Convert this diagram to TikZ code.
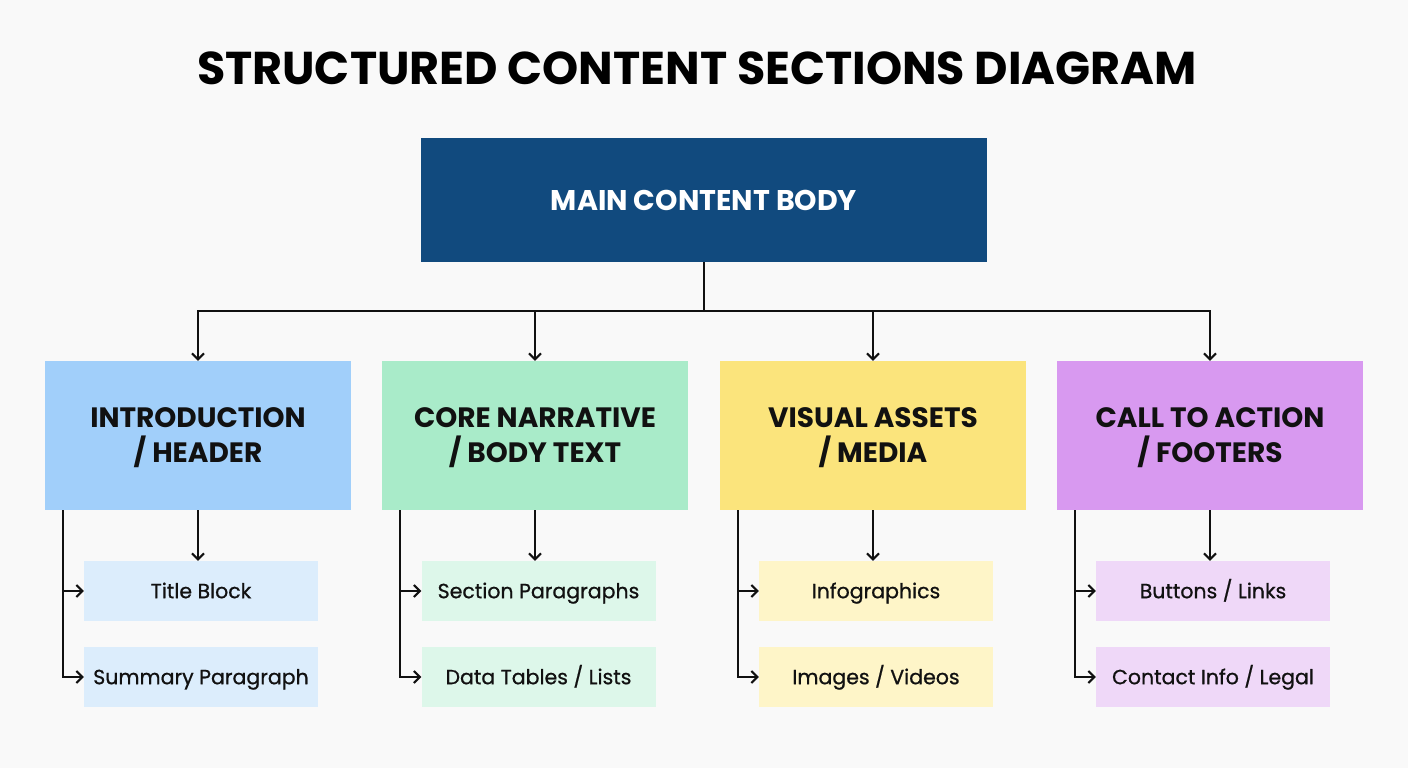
\documentclass[tikz,border=0pt]{standalone}
\usepackage{fontspec}
\setmainfont{Poppins}
\newfontfamily\submedium{Poppins}[FakeBold=0.8]
\usetikzlibrary{arrows.meta}
\definecolor{bgc}{HTML}{F9F9F9}
\definecolor{mainc}{HTML}{114A7E}
\definecolor{blueA}{HTML}{A1CFFA}
\definecolor{blueB}{HTML}{DCEDFC}
\definecolor{greenA}{HTML}{A9EBC9}
\definecolor{greenB}{HTML}{DDF7EA}
\definecolor{yellowA}{HTML}{FBE47C}
\definecolor{yellowB}{HTML}{FEF5C8}
\definecolor{purpleA}{HTML}{D899F0}
\definecolor{purpleB}{HTML}{EFD8F8}
\definecolor{ink}{HTML}{111111}
\tikzset{
  mainbox/.style={rectangle, fill=mainc, minimum width=566pt, minimum height=124pt, inner sep=0pt,
    text height=20pt, text depth=0pt,
    text=white, font=\fontsize{28.5}{30}\selectfont\bfseries},
  secbox/.style={rectangle, minimum width=306pt, minimum height=149pt, inner sep=0pt, align=center,
    text height=54.6pt, text depth=0pt,
    text=ink, font=\fontsize{28}{35}\selectfont\bfseries},
  subbox/.style={rectangle, minimum width=234pt, minimum height=60pt, inner sep=0pt,
    text height=14.4pt, text depth=0pt,
    text=ink, font=\fontsize{20.5}{24}\submedium},
  conn/.style={draw=ink, line width=2pt},
  arr/.style={conn, -{Straight Barb[length=6pt,width=12pt,line width=2pt]}},
}
\begin{document}
\begin{tikzpicture}[x=1pt,y=-1pt]
\useasboundingbox[fill=bgc] (0,0) rectangle (1408,768);
\node[font=\fontsize{46}{50}\selectfont\bfseries, text=black, text height=32.2pt, text depth=0pt, inner sep=0pt] (title) at (697,68) {STRUCTURED CONTENT SECTIONS DIAGRAM};
\node[mainbox] (main) at (704,200) {MAIN CONTENT BODY};

\node[secbox, fill=blueA] (c1) at (198,435.5) {INTRODUCTION\\/ HEADER};
\node[secbox, fill=greenA] (c2) at (535,435.5) {CORE NARRATIVE\\/ BODY TEXT};
\node[secbox, fill=yellowA] (c3) at (873,435.5) {VISUAL ASSETS\\/ MEDIA};
\node[secbox, fill=purpleA] (c4) at (1210,435.5) {CALL TO ACTION\\/ FOOTERS};

\node[subbox, fill=blueB] (s1a) at (201,591) {Title Block};
\node[subbox, fill=blueB] (s1b) at (201,677) {Summary Paragraph};
\node[subbox, fill=greenB] (s2a) at (538.5,591) {Section Paragraphs};
\node[subbox, fill=greenB] (s2b) at (538.5,677) {Data Tables / Lists};
\node[subbox, fill=yellowB] (s3a) at (876,591) {Infographics};
\node[subbox, fill=yellowB] (s3b) at (876,677) {Images / Videos};
\node[subbox, fill=purpleB] (s4a) at (1213,591) {Buttons / Links};
\node[subbox, fill=purpleB] (s4b) at (1213,677) {Contact Info / Legal};

\draw[conn] (main.south) -- ++(0,49) coordinate (j);
\draw[conn, line cap=rect] (c1.north |- j) -- (c4.north |- j);
\foreach \c in {c1,c2,c3,c4}{
  \draw[arr] (\c.north |- j) -- (\c.north);
}
\foreach \c/\a/\b in {c1/s1a/s1b, c2/s2a/s2b, c3/s3a/s3b, c4/s4a/s4b}{
  \draw[arr] (\c.south) -- (\c.south |- \a.north);
  \coordinate (l\c) at ([xshift=18pt]\c.south west);
  \draw[arr] (l\c) |- (\b.west);
  \draw[arr] (l\c |- \a.west) -- (\a.west);
}
\end{tikzpicture}
\end{document}
